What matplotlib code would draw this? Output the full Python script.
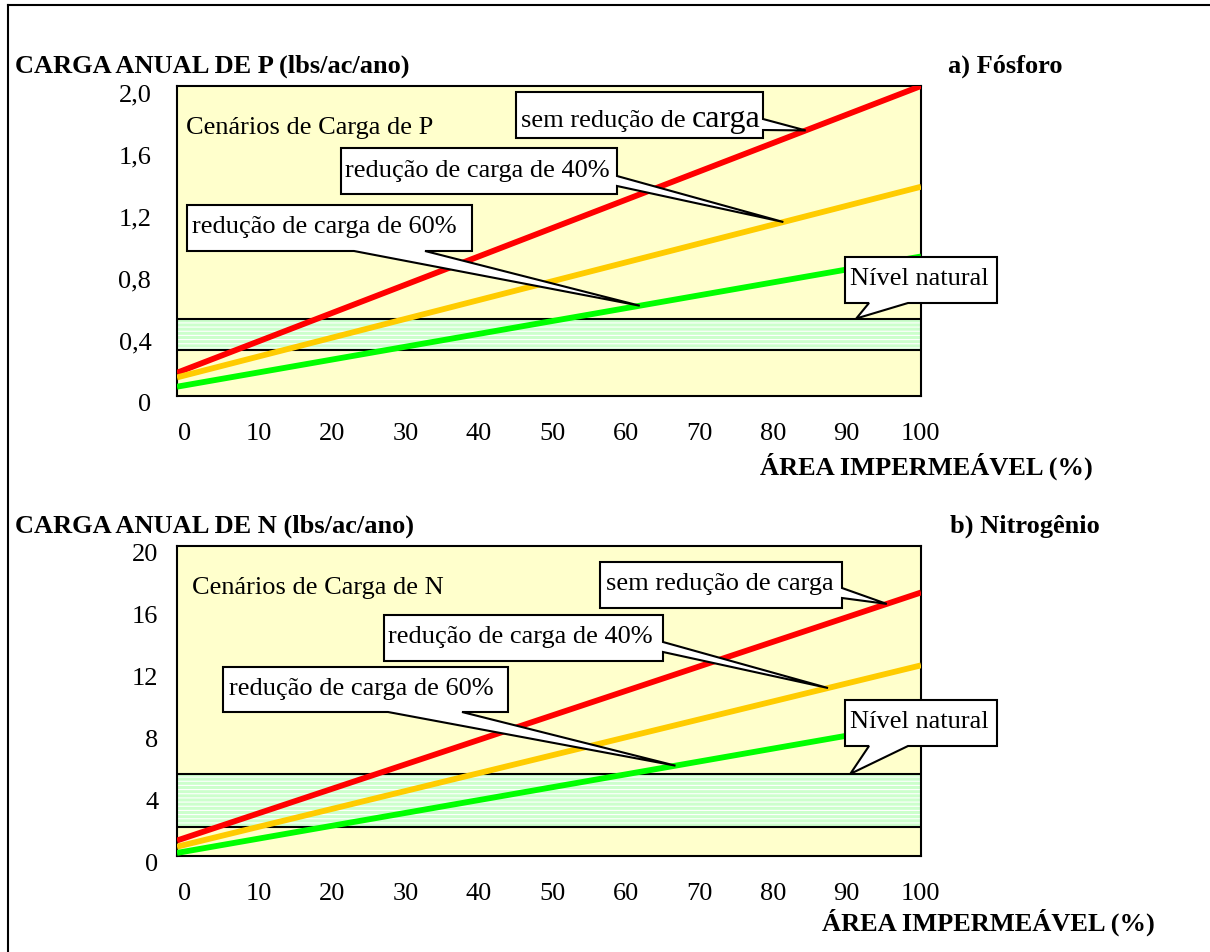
import matplotlib
matplotlib.use("Agg")
import matplotlib.pyplot as plt
import matplotlib.transforms as mtransforms
from matplotlib.patches import Polygon
from matplotlib.lines import Line2D
import numpy as np

plt.rcParams['font.family'] = ['Liberation Serif', 'DejaVu Serif']
plt.rcParams['hatch.color'] = 'white'
plt.rcParams['hatch.linewidth'] = 0.8

W, H = 1210, 953

# data
area = [0, 100]
area_ticks = [0, 10, 20, 30, 40, 50, 60, 70, 80, 90, 100]

p_sem = [0.15, 2.0]
p_40 = [0.12, 1.35]
p_60 = [0.06, 0.90]
p_natural = [0.30, 0.50]
p_ticks = [0, 0.4, 0.8, 1.2, 1.6, 2.0]
p_ticklabels = ['0', '0,4', '0,8', '1,2', '1,6', '2,0']

n_sem = [1.0, 17.0]
n_40 = [0.6, 12.3]
n_60 = [0.2, 8.6]
n_natural = [1.9, 5.3]
n_ticks = [0, 4, 8, 12, 16, 20]
n_ticklabels = ['0', '4', '8', '12', '16', '20']

# where the callout pointers touch the lines (% impermeable area)
p_pointers = [84.5, 81.5, 62.2, 91.3]
n_pointers = [95.4, 87.5, 67.0, 90.5]

red = '#ff0000'
orange = '#ffcc00'
green = '#00ff00'

fig = plt.figure(figsize=(W / 100, H / 100), dpi=100)


def fx(x):
    return x / W


def fy(y):
    return 1 - y / H


def make_axes(top, bottom, ymax, ticks, labels, ypad):
    ax = fig.add_axes([fx(177), fy(bottom), fx(921) - fx(177), fy(top) - fy(bottom)])
    ax.set_facecolor('#ffffcc')
    ax.set_xlim(0, 100)
    ax.set_ylim(0, ymax)
    ax.set_xticks(area_ticks)
    ax.set_xticklabels([str(t) for t in area_ticks])
    ax.set_yticks(ticks)
    ax.set_yticklabels(labels)
    ax.tick_params(axis='both', length=0, labelsize=19)
    ax.tick_params(axis='x', pad=19)
    ax.tick_params(axis='y', pad=ypad)
    for s in ax.spines.values():
        s.set_linewidth(1.5)
    off = mtransforms.ScaledTranslation(0, -0.06, fig.dpi_scale_trans)
    for lab in ax.get_yticklabels():
        lab.set_transform(lab.get_transform() + off)
    # tick labels sit a little inward, as in the original
    for lab, v in zip(ax.get_xticklabels(), area_ticks):
        dx = (8 - 9 * v / 100) / 100
        lab.set_transform(lab.get_transform() +
                          mtransforms.ScaledTranslation(dx, 0, fig.dpi_scale_trans))
    return ax


def draw_series(ax, natural, sem, r40, r60):
    ax.fill_between(area, natural[0], natural[1], facecolor='#ccffcc',
                    edgecolor='white', hatch='----', linewidth=0, zorder=1)
    ax.axhline(natural[0], color='black', lw=1.5, zorder=2)
    ax.axhline(natural[1], color='black', lw=1.5, zorder=2)
    ax.plot(area, sem, color=red, lw=4.2, solid_capstyle='butt', zorder=3)
    ax.plot(area, r40, color=orange, lw=4.2, solid_capstyle='butt', zorder=3)
    ax.plot(area, r60, color=green, lw=4.2, solid_capstyle='butt', zorder=3)


def callout(ax, box, side, base, tip):
    x0, y0, x1, y1 = box
    t = ax.transData.transform(tip)
    tx, ty = t[0], H - t[1]
    b0, b1 = base
    if side == 'right':
        pts = [(x0, y0), (x1, y0), (x1, b0), (tx, ty), (x1, b1), (x1, y1), (x0, y1)]
    else:
        pts = [(x0, y0), (x1, y0), (x1, y1), (b1, y1), (tx, ty), (b0, y1), (x0, y1)]
    poly = Polygon([(fx(x), fy(y)) for x, y in pts], closed=True, fc='white',
                   ec='black', lw=1.5, transform=fig.transFigure, zorder=5)
    fig.add_artist(poly)


def label(x, y, s, size=19, weight='normal', ha='left'):
    return fig.text(fx(x), fy(y), s, fontsize=size, fontweight=weight,
                    ha=ha, va='baseline', zorder=6)


# ---- a) Fosforo
ax1 = make_axes(87, 397, 2.0, p_ticks, p_ticklabels, 18.5)
draw_series(ax1, p_natural, p_sem, p_40, p_60)

callout(ax1, (516, 93, 763, 139), 'right', (120, 131),
        (p_pointers[0], np.interp(p_pointers[0], area, p_sem)))
callout(ax1, (341, 149, 617, 195), 'right', (177, 187),
        (p_pointers[1], np.interp(p_pointers[1], area, p_40)))
callout(ax1, (187, 206, 472, 252), 'bottom', (354, 425),
        (p_pointers[2], np.interp(p_pointers[2], area, p_60)))
callout(ax1, (845, 258, 997, 304), 'bottom', (869, 908),
        (p_pointers[3], p_natural[1]))

t1 = label(521, 127, 'sem redução de')
fig.canvas.draw()
ext = t1.get_window_extent(fig.canvas.get_renderer())
label(ext.x1 + 6, 127, 'carga', size=23)
label(345, 177, 'redução de carga de 40%')
label(192, 233, 'redução de carga de 60%')
label(850, 285, 'Nível natural')
label(186, 134, 'Cenários de Carga de P')

label(15, 73, 'CARGA ANUAL DE P (lbs/ac/ano)', weight='bold')
label(948, 73, 'a) Fósforo', weight='bold')
label(760, 475, 'ÁREA IMPERMEÁVEL (%)', weight='bold')

# ---- b) Nitrogenio
ax2 = make_axes(547, 857, 20, n_ticks, n_ticklabels, 13.5)
draw_series(ax2, n_natural, n_sem, n_40, n_60)

callout(ax2, (600, 563, 842, 609), 'right', (589, 599),
        (n_pointers[0], np.interp(n_pointers[0], area, n_sem)))
callout(ax2, (384, 616, 663, 662), 'right', (643, 653),
        (n_pointers[1], np.interp(n_pointers[1], area, n_40)))
callout(ax2, (223, 668, 508, 713), 'bottom', (388, 462),
        (n_pointers[2], np.interp(n_pointers[2], area, n_60)))
callout(ax2, (845, 701, 997, 747), 'bottom', (869, 908),
        (n_pointers[3], n_natural[1]))

label(606, 590, 'sem redução de carga')
label(388, 643, 'redução de carga de 40%')
label(229, 695, 'redução de carga de 60%')
label(850, 728, 'Nível natural')
label(192, 594, 'Cenários de Carga de N')

label(15, 533, 'CARGA ANUAL DE N (lbs/ac/ano)', weight='bold')
label(950, 533, 'b) Nitrogênio', weight='bold')
label(1155, 931, 'ÁREA IMPERMEÁVEL (%)', weight='bold', ha='right')

# outer frame (top and left edges)
fig.add_artist(Line2D([fx(8), fx(8)], [0, fy(6)], color='black', lw=1.5,
                      transform=fig.transFigure))
fig.add_artist(Line2D([fx(8), 1], [fy(6), fy(6)], color='black', lw=1.5,
                      transform=fig.transFigure))

fig.savefig('out.png', dpi=100)
